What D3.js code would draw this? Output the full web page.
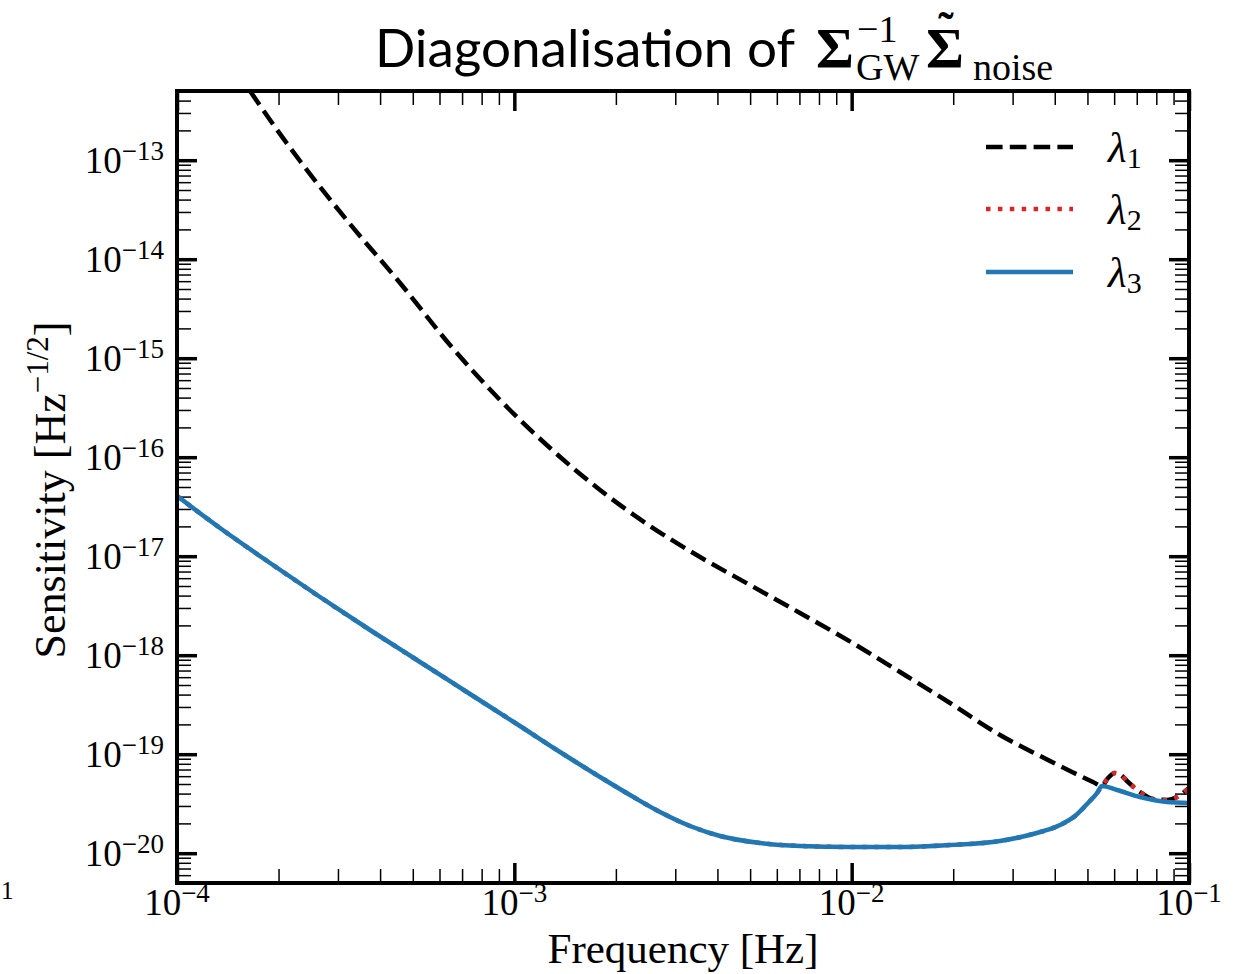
<!DOCTYPE html>
<html lang="en">
<head>
<meta charset="utf-8">
<title>Diagonalisation of Sigma_GW^-1 Sigma_noise</title>
<script src="https://cdn.jsdelivr.net/npm/d3@7"></script>
<style>
  body { margin: 0; background: #fff; }
  .serif { font-family: "Liberation Serif", "DejaVu Serif", serif; }
</style>
</head>
<body>
<script>
// values
// lambda1 (black dashed)
var freq1 = [1.646e-4, 1.952e-4, 2.316e-4, 3.258e-4, 4.584e-4, 6.447e-4, 9.07e-4, 1.276e-3,
             1.795e-3, 2.525e-3, 3.552e-3, 4.995e-3, 7.028e-3, 9.954e-3, 1.391e-2, 1.957e-2,
             2.752e-2, 3.616e-2, 4.439e-2, 5.193e-2, 5.522e-2, 5.753e-2, 6.034e-2, 6.286e-2,
             6.549e-2, 7.156e-2, 7.819e-2, 8.606e-2, 9.213e-2, 0.1];
var lambda1 = [5.0e-13, 2.165e-13, 9.81e-14, 2.267e-14, 5.75e-15, 1.359e-15, 3.783e-16, 1.238e-16,
               4.664e-17, 2.019e-17, 9.81e-18, 5.118e-18, 2.669e-18, 1.359e-18, 6.766e-19, 3.29e-19,
               1.563e-19, 9.59e-20, 6.766e-20, 5.238e-20, 4.774e-20, 5.748e-20, 6.454e-20, 6.16e-20,
               5.361e-20, 4.152e-20, 3.527e-20, 3.446e-20, 3.694e-20, 4.557e-20];

// lambda3 (blue solid)
var freq3 = [1e-4, 1.341e-4, 1.887e-4, 2.654e-4, 3.734e-4, 5.253e-4, 7.388e-4, 1.039e-3,
             1.366e-3, 1.795e-3, 2.203e-3, 2.703e-3, 3.317e-3, 4.071e-3, 5.35e-3, 7.028e-3,
             9.954e-3, 1.391e-2, 1.957e-2, 2.752e-2, 3.448e-2, 4.146e-2, 4.594e-2, 5.019e-2,
             5.337e-2, 5.522e-2, 6.118e-2, 7.156e-2, 8.606e-2, 0.1];
var lambda3 = [4.055e-17, 1.927e-17, 8.54e-18, 3.871e-18, 1.797e-18, 8.54e-19, 4.055e-19, 1.927e-19,
               1.052e-19, 5.883e-20, 3.871e-20, 2.607e-20, 1.883e-20, 1.492e-20, 1.268e-20, 1.182e-20,
               1.155e-20, 1.155e-20, 1.21e-20, 1.328e-20, 1.563e-20, 1.927e-20, 2.375e-20, 3.214e-20,
               4.055e-20, 4.774e-20, 4.347e-20, 3.694e-20, 3.29e-20, 3.214e-20];

// lambda2 (red dotted): under lambda3 up to the crossing, then on top of lambda1
var freq2 = [1e-4, 1.341e-4, 1.887e-4, 2.654e-4, 3.734e-4, 5.253e-4, 7.388e-4, 1.039e-3,
             1.366e-3, 1.795e-3, 2.203e-3, 2.703e-3, 3.317e-3, 4.071e-3, 5.35e-3, 7.028e-3,
             9.954e-3, 1.391e-2, 1.957e-2, 2.752e-2, 3.448e-2, 4.146e-2, 4.594e-2, 5.019e-2,
             5.337e-2, 5.522e-2, 5.753e-2, 6.034e-2, 6.286e-2, 6.549e-2, 7.156e-2, 7.819e-2,
             8.606e-2, 9.213e-2, 0.1];
var lambda2 = [4.055e-17, 1.927e-17, 8.54e-18, 3.871e-18, 1.797e-18, 8.54e-19, 4.055e-19, 1.927e-19,
               1.052e-19, 5.883e-20, 3.871e-20, 2.607e-20, 1.883e-20, 1.492e-20, 1.268e-20, 1.182e-20,
               1.155e-20, 1.155e-20, 1.21e-20, 1.328e-20, 1.563e-20, 1.927e-20, 2.375e-20, 3.214e-20,
               4.055e-20, 4.774e-20, 5.748e-20, 6.454e-20, 6.16e-20, 5.361e-20, 4.152e-20, 3.527e-20,
               3.446e-20, 3.694e-20, 4.557e-20];

// tick exponents
var xTickExp = [-4, -3, -2, -1];
var yTickExp = [-20, -19, -18, -17, -16, -15, -14, -13];

var w = 1246, h = 974;
var pL = 177, pR = 1189, pT = 91, pB = 883;

var x = d3.scaleLog().domain([1e-4, 1e-1]).range([pL, pR]);
var y = d3.scaleLog().domain([5e-21, 5e-13]).range([pB, pT]);

var svg = d3.select("body").append("svg")
            .attr("width", w)
            .attr("height", h)
            .style("background", "#fff");

svg.append("defs").append("clipPath").attr("id", "plotclip")
   .append("rect")
   .attr("x", pL).attr("y", pT)
   .attr("width", pR - pL).attr("height", pB - pT);

//minor tick values
function minors(scale) {
	var d = scale.domain(), out = [];
	for (var e = Math.floor(Math.log10(d[0])); e <= Math.ceil(Math.log10(d[1])); e++) {
		for (var m = 2; m <= 9; m++) {
			var v = m * Math.pow(10, e);
			if (v >= d[0] && v <= d[1]) out.push(v);
		}
	}
	return out;
}
var xMajor = xTickExp.map(function(e) { return Math.pow(10, e); });
var yMajor = yTickExp.map(function(e) { return Math.pow(10, e); });

function drawAxis(axis, tx, ty, vals, size, sw) {
	var g = svg.append("g")
	   .attr("transform", "translate(" + tx + "," + ty + ")")
	   .call(axis.tickValues(vals).tickSize(size).tickFormat(""));
	g.select(".domain").remove();
	g.selectAll(".tick line").attr("stroke", "#000").attr("stroke-width", sw);
	return g;
}

drawAxis(d3.axisBottom(x), 0, pB, minors(x), -14, 1.5);
drawAxis(d3.axisTop(x), 0, pT, minors(x), -14, 1.5);
drawAxis(d3.axisLeft(y), pL, 0, minors(y), -14, 1.5);
drawAxis(d3.axisRight(y), pR, 0, minors(y), -14, 1.5);
drawAxis(d3.axisBottom(x), 0, pB, xMajor, -20, 3.5);
drawAxis(d3.axisTop(x), 0, pT, xMajor, -20, 3.5);
drawAxis(d3.axisLeft(y), pL, 0, yMajor, -20, 3.5);
drawAxis(d3.axisRight(y), pR, 0, yMajor, -20, 3.5);

//Tick labels
var xl = svg.selectAll("text.xtick")
   .data(xTickExp)
   .enter()
   .append("text")
   .attr("class", "xtick serif")
   .attr("x", function(d) { return x(Math.pow(10, d)); })
   .attr("y", 915)
   .attr("text-anchor", "middle")
   .attr("font-size", "37px");
xl.append("tspan").text("10");
xl.append("tspan").attr("dy", -13).attr("font-size", "27px")
  .text(function(d) { return "\u2212" + (-d); });

var yl = svg.selectAll("text.ytick")
   .data(yTickExp)
   .enter()
   .append("text")
   .attr("class", "ytick serif")
   .attr("x", 164)
   .attr("y", function(d) { return y(Math.pow(10, d)) + 12.5; })
   .attr("text-anchor", "end")
   .attr("font-size", "37px");
yl.append("tspan").text("10");
yl.append("tspan").attr("dy", -13).attr("font-size", "27px")
  .text(function(d) { return "\u2212" + (-d); });

//Curves
var line = d3.line()
   .x(function(d) { return x(d[0]); })
   .y(function(d) { return y(d[1]); })
   .curve(d3.curveMonotoneX);

var series = [
	{ f: freq1, v: lambda1, color: "#000000", dash: "16.6,7.2", cap: "butt" },
	{ f: freq2, v: lambda2, color: "#d62728", dash: "4.5,7.4", cap: "butt" },
	{ f: freq3, v: lambda3, color: "#1f77b4", dash: null, cap: "round" }
];

var plot = svg.append("g").attr("clip-path", "url(#plotclip)");
plot.selectAll("path.curve")
    .data(series)
    .enter()
    .append("path")
    .attr("class", "curve")
    .attr("d", function(s) { return line(d3.zip(s.f, s.v)); })
    .attr("fill", "none")
    .attr("stroke", function(s) { return s.color; })
    .attr("stroke-width", 4.5)
    .attr("stroke-dasharray", function(s) { return s.dash; })
    .attr("stroke-linecap", function(s) { return s.cap; })
    .attr("stroke-linejoin", "round");

//Frame
svg.append("rect")
   .attr("x", pL).attr("y", pT)
   .attr("width", pR - pL).attr("height", pB - pT)
   .attr("fill", "none")
   .attr("stroke", "#000")
   .attr("stroke-width", 4);

//Legend
var legY = [147, 209, 272];
var leg = svg.selectAll("g.leg")
   .data(series)
   .enter()
   .append("g")
   .attr("class", "leg");
leg.append("line")
   .attr("x1", 986).attr("x2", 1073)
   .attr("y1", function(d, i) { return legY[i]; })
   .attr("y2", function(d, i) { return legY[i]; })
   .attr("stroke", function(s) { return s.color; })
   .attr("stroke-width", 4.5)
   .attr("stroke-dasharray", function(s) { return s.dash; })
   .attr("stroke-linecap", "butt");
var lt = leg.append("text")
   .attr("class", "serif")
   .attr("x", 1108)
   .attr("y", function(d, i) { return legY[i] + 15; })
   .attr("font-size", "43px");
lt.append("tspan").attr("font-style", "italic").text("\u03bb");
lt.append("tspan").attr("dy", 6).attr("font-size", "30px")
  .text(function(d, i) { return i + 1; });

//Axis labels
svg.append("text")
   .attr("class", "serif")
   .attr("x", (pL + pR) / 2)
   .attr("y", 963)
   .attr("text-anchor", "middle")
   .attr("font-size", "43px")
   .text("Frequency [Hz]");

var ylab = svg.append("text")
   .attr("class", "serif")
   .attr("transform", "translate(65,490) rotate(-90)")
   .attr("text-anchor", "middle")
   .attr("font-size", "44px");
ylab.append("tspan").text("Sensitivity [Hz");
ylab.append("tspan").attr("dy", -17).attr("font-size", "31px").text("\u22121/2");
ylab.append("tspan").attr("dy", 17).text("]");

//Title
svg.append("text")
   .attr("x", 375).attr("y", 67)
   .attr("font-family", "Lato, 'Noto Sans', sans-serif")
   .attr("font-size", "53px")
   .text("Diagonalisation of");
var tt = svg.append("g").attr("class", "serif");
tt.append("text").attr("x", 816).attr("y", 68).attr("font-size", "58px")
  .attr("font-weight", "bold").text("\u03a3");
tt.append("text").attr("x", 857).attr("y", 42).attr("font-size", "38px").text("\u22121");
tt.append("text").attr("x", 856).attr("y", 80).attr("font-size", "38px").text("GW");
tt.append("text").attr("x", 926).attr("y", 68).attr("font-size", "58px")
  .attr("font-weight", "bold").text("\u03a3");
tt.append("text").attr("x", 946).attr("y", 45).attr("font-size", "46px")
  .attr("text-anchor", "middle").attr("font-weight", "bold").text("\u02dc");
tt.append("text").attr("x", 973).attr("y", 80).attr("font-size", "38px").text("noise");

//stray fragment at the left edge
svg.append("text")
   .attr("class", "serif")
   .attr("x", 1).attr("y", 899)
   .attr("font-size", "25px")
   .text("1");
</script>
</body>
</html>
